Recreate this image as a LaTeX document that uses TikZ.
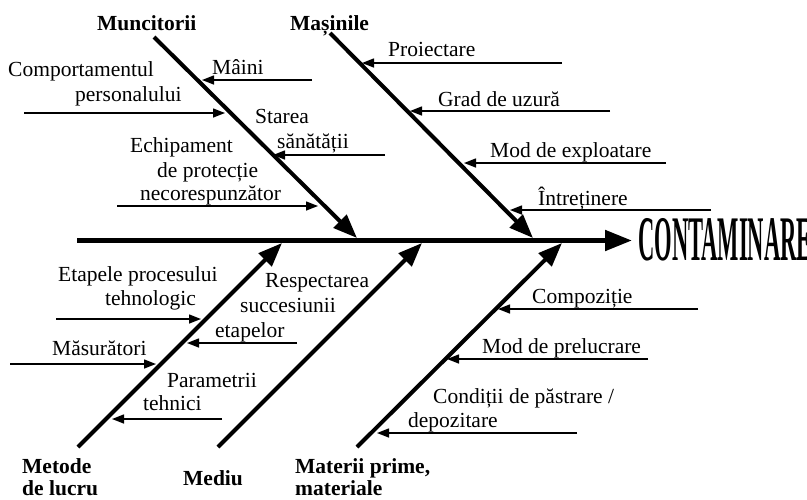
\documentclass[tikz,border=0pt]{standalone}
\usepackage{fontspec}
\setmainfont{Liberation Serif}
\usetikzlibrary{arrows.meta}
\begin{document}
\begin{tikzpicture}[x=1pt,y=-1pt,
  spine/.style={line width=5pt,-{Triangle[length=27pt,width=20pt]}},
  bone/.style={line width=4pt,-{Triangle[length=24pt,width=18pt]}},
  sub/.style={line width=1.4pt,-{Triangle[length=12pt,width=9pt]}},
  lbl/.style={inner sep=0pt,anchor=base west,font=\fontsize{21.5}{24.5}\selectfont},
  cat/.style={inner sep=0pt,anchor=base west,font=\fontsize{21.5}{24.5}\selectfont\bfseries}]
\clip (0,0) rectangle (807,499);
\useasboundingbox (0,0) rectangle (807,499);

% spine
\coordinate (sp0) at (77,240.5);
\coordinate (sp1) at (632,240.5);
\draw[spine] (sp0) -- (sp1);
\node[inner sep=0pt,anchor=base west] (effect) at (638,260)
  {\scalebox{0.355}[1]{\fontsize{63.5}{64}\selectfont\bfseries CONTAMINARE}};

% bones
\coordinate (b1s) at (154,37);  \coordinate (b1e) at (357,238);
\coordinate (b2s) at (330,33);  \coordinate (b2e) at (533,238);
\coordinate (b3s) at (78,447);  \coordinate (b3e) at (282,243);
\coordinate (b4s) at (218,447); \coordinate (b4e) at (422,243);
\coordinate (b5s) at (357,447); \coordinate (b5e) at (562,243);
\draw[bone] (b1s) -- (b1e);
\draw[bone] (b2s) -- (b2e);
\draw[bone] (b3s) -- (b3e);
\draw[bone] (b4s) -- (b4e);
\draw[bone] (b5s) -- (b5e);

% category labels
\node[cat] (muncitorii) at (97,30) {Muncitorii};
\node[cat] (masinile) at (290,30) {Mașinile};
\node[cat] (metode1) at (22,473) {Metode};
\node[cat] (metode2) at (22,495) {de lucru};
\node[cat] (mediu) at (183,485) {Mediu};
\node[cat] (materii1) at (295,473) {Materii prime,};
\node[cat] (materii2) at (295,495) {materiale};

% Muncitorii causes
\coordinate (a1s) at (312,80);  \coordinate (a1e) at (202,80);
\coordinate (a2s) at (24,113);  \coordinate (a2e) at (225,113);
\coordinate (a3s) at (385,155); \coordinate (a3e) at (273,155);
\coordinate (a4s) at (117,206); \coordinate (a4e) at (318,206);
\draw[sub] (a1s) -- (a1e);
\draw[sub] (a2s) -- (a2e);
\draw[sub] (a3s) -- (a3e);
\draw[sub] (a4s) -- (a4e);
\node[lbl] (maini) at (212,74) {Mâini};
\node[lbl] (comp1) at (8,76) {Comportamentul};
\node[lbl] (comp2) at (75,101) {personalului};
\node[lbl] (star1) at (255,123) {Starea};
\node[lbl] (star2) at (277,148) {sănătății};
\node[lbl] (echi1) at (130,152) {Echipament};
\node[lbl] (echi2) at (157,177) {de protecție};
\node[lbl] (echi3) at (140,200) {necorespunzător};

% Masinile causes
\coordinate (c1s) at (562,63);  \coordinate (c1e) at (362,63);
\coordinate (c2s) at (610,111); \coordinate (c2e) at (410,111);
\coordinate (c3s) at (666,163); \coordinate (c3e) at (464,163);
\coordinate (c4s) at (711,210); \coordinate (c4e) at (510,210);
\draw[sub] (c1s) -- (c1e);
\draw[sub] (c2s) -- (c2e);
\draw[sub] (c3s) -- (c3e);
\draw[sub] (c4s) -- (c4e);
\node[lbl] (proi) at (388,56) {Proiectare};
\node[lbl] (grad) at (438,106) {Grad de uzură};
\node[lbl] (modex) at (490,157) {Mod de exploatare};
\node[lbl] (intr) at (538,205) {Întreținere};

% Metode causes
\coordinate (d1s) at (56,319);  \coordinate (d1e) at (201,319);
\coordinate (d2s) at (297,343); \coordinate (d2e) at (187,343);
\coordinate (d3s) at (10,364);  \coordinate (d3e) at (156,364);
\coordinate (d4s) at (222,419); \coordinate (d4e) at (112,419);
\draw[sub] (d1s) -- (d1e);
\draw[sub] (d2s) -- (d2e);
\draw[sub] (d3s) -- (d3e);
\draw[sub] (d4s) -- (d4e);
\node[lbl] (etap1) at (58,281) {Etapele procesului};
\node[lbl] (etap2) at (105,305) {tehnologic};
\node[lbl] (resp1) at (265,287) {Respectarea};
\node[lbl] (resp2) at (240,312) {succesiunii};
\node[lbl] (resp3) at (215,337) {etapelor};
\node[lbl] (masur) at (52,355) {Măsurători};
\node[lbl] (param1) at (167,387) {Parametrii};
\node[lbl] (param2) at (143,410) {tehnici};

% Materii causes
\coordinate (e1s) at (698,309); \coordinate (e1e) at (498,309);
\coordinate (e2s) at (648,359); \coordinate (e2e) at (447,359);
\coordinate (e3s) at (577,433); \coordinate (e3e) at (377,433);
\draw[sub] (e1s) -- (e1e);
\draw[sub] (e2s) -- (e2e);
\draw[sub] (e3s) -- (e3e);
\node[lbl] (compoz) at (532,303) {Compoziție};
\node[lbl] (modpr) at (482,353) {Mod de prelucrare};
\node[lbl] (cond1) at (433,403) {Condiții de păstrare /};
\node[lbl] (cond2) at (408,427) {depozitare};
\end{tikzpicture}
\end{document}
